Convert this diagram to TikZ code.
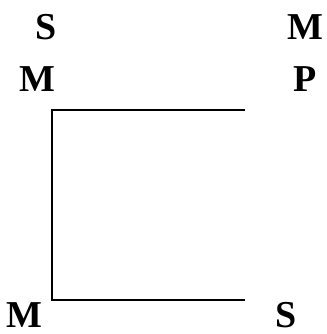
\documentclass[tikz,border=0pt]{standalone}
\usepackage{fontspec}
\setmainfont{Liberation Serif}
\usetikzlibrary{positioning}

\begin{document}
\begin{tikzpicture}[x=1pt, y=-1pt,
			letra/.style={anchor=base, inner sep=0pt, font=\fontsize{38}{42}\selectfont\bfseries},
			trazo/.style={line width=1.6pt}]
			\useasboundingbox (0,0) rectangle (326,334);
			\node[letra] (sIzq) at (46,40) {S};
			\node[letra] (mDer) at (305,40) {M};
			\node[letra] (mIzq) at (37,92) {M};
			\node[letra] (pDer) at (305,92) {P};
			\node[letra] (mAbajo) at (24,327) {M};
			\node[letra] (sAbajo) at (286,327) {S};
			\coordinate (arribaDer) at (245,110);
			\coordinate (arribaIzq) at (52,110);
			\coordinate (abajoIzq) at (52,300);
			\coordinate (abajoDer) at (245,300);
			\draw[trazo] (arribaDer) -- (arribaIzq) -- (abajoIzq) -- (abajoDer);
		\end{tikzpicture}
\end{document}
